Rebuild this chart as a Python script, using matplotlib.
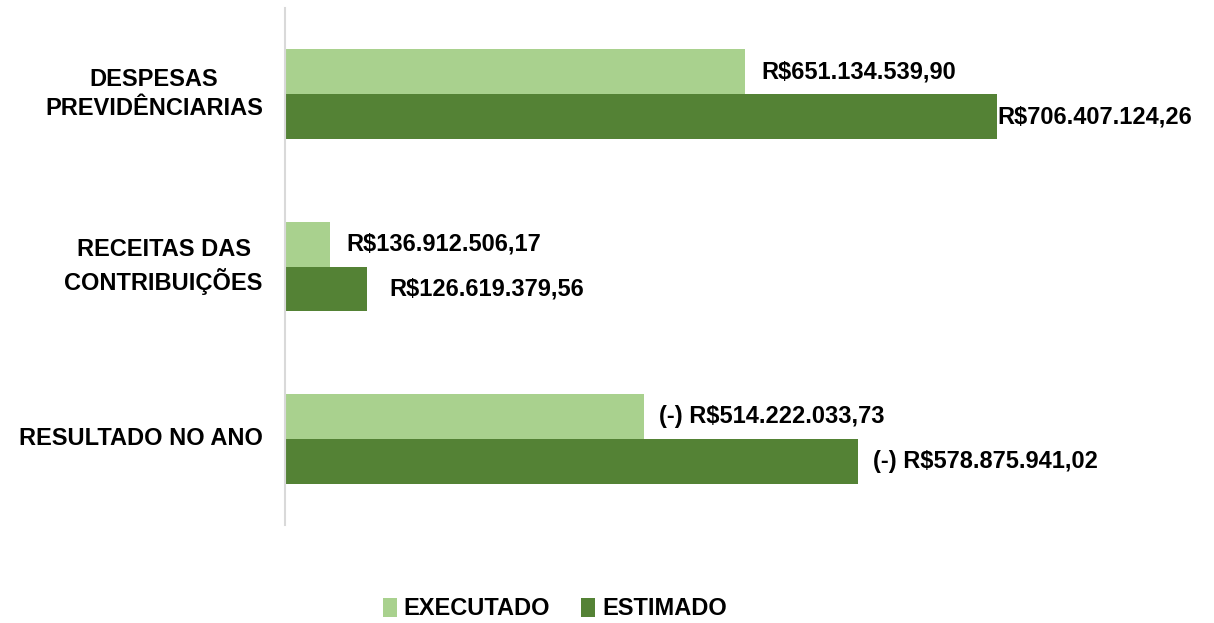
import numpy as np
import matplotlib
matplotlib.use("Agg")
import matplotlib.pyplot as plt

plt.rcParams['font.family'] = ['Liberation Sans', 'DejaVu Sans']
plt.rcParams['font.weight'] = 'bold'

categories = ["DESPESAS\nPREVIDÊNCIARIAS", "RECEITAS DAS\nCONTRIBUIÇÕES", "RESULTADO NO ANO"]
series_names = ["EXECUTADO", "ESTIMADO"]
# bar lengths as drawn in the reference (arbitrary units)
executado_len = [460, 45, 359]
estimado_len = [712, 82, 573]
executado_labels = ["R$651.134.539,90", "R$136.912.506,17", "(-) R$514.222.033,73"]
estimado_labels = ["R$706.407.124,26", "R$126.619.379,56", "(-) R$578.875.941,02"]
executado_gap = [16, 16, 15]
estimado_gap = [0, 22, 15]

c_exec = '#A9D18E'
c_est = '#548235'

fig = plt.figure(figsize=(12.14, 6.23), dpi=100)
ax = fig.add_axes([285/1214, 98/623, 929/1214, 517/623])

y = np.arange(len(categories))
h = 0.261
ax.barh(y - h/2, executado_len, height=h, color=c_exec, label=series_names[0])
ax.barh(y + h/2, estimado_len, height=h, color=c_est, label=series_names[1])

ax.set_ylim(2.5, -0.5)
ax.set_xlim(0, 929)

for i in range(len(categories)):
    ax.annotate(executado_labels[i], xy=(executado_len[i], y[i] - h/2),
                xytext=(executado_gap[i]*0.72, 0), textcoords='offset points',
                ha='left', va='center', fontsize=17, fontweight='bold', color='black')
    ax.annotate(estimado_labels[i], xy=(estimado_len[i], y[i] + h/2),
                xytext=(estimado_gap[i]*0.72, 0), textcoords='offset points',
                ha='left', va='center', fontsize=17, fontweight='bold', color='black')

ax.set_yticks(y)
ax.set_yticklabels(categories, fontsize=17, fontweight='bold', multialignment='center',
                   linespacing=1.35, va='center')
ax.tick_params(axis='y', length=0, pad=16)
ax.set_xticks([])
for s in ['top', 'right', 'bottom']:
    ax.spines[s].set_visible(False)
ax.spines['left'].set_color('#D9D9D9')
ax.spines['left'].set_linewidth(1.5)

fig.legend(loc='center', bbox_to_anchor=(0.457, 0.0225), ncol=2, frameon=False,
           prop={'size': 17, 'weight': 'bold'}, handlelength=0.6, handleheight=0.9,
           handletextpad=0.3, columnspacing=1.3)

fig.savefig('out.png', dpi=100)
